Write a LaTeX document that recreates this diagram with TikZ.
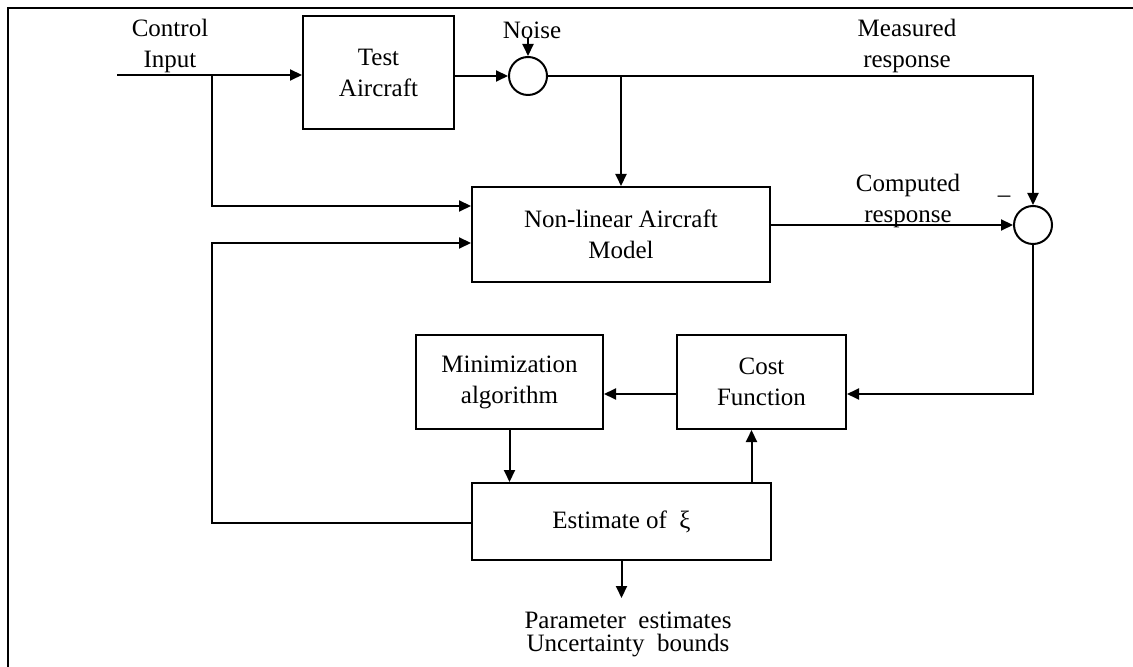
\documentclass[tikz,border=0pt]{standalone}
\usepackage{fontspec}
\setmainfont{Liberation Serif}
\usetikzlibrary{arrows.meta,positioning,calc}
\tikzset{>={Triangle[length=6pt,width=5.5pt]}}

\begin{document}
\begin{tikzpicture}[x=0.5pt,y=-0.5pt,line width=1pt,
  font=\fontsize{12.5}{15.5}\selectfont,
  block/.style={draw,align=center,inner sep=0pt},
  sumnode/.style={draw,circle,minimum size=19pt,inner sep=0pt},
  lbl/.style={align=center,inner sep=0pt}]
\useasboundingbox (0,0) rectangle (1133,667);
\draw (8,700) -- (8,8) -- (1150,8);
%%%% blocks
\node[block,minimum width=75.5pt,minimum height=56.5pt] (test) at (378.5,72.5) {Test\\Aircraft};
\node[sumnode] (sum1) at (528,76) {};
\node[block,minimum width=149pt,minimum height=47.5pt] (model) at (621,234.5) {Non-linear Aircraft\\Model};
\node[sumnode] (sum2) at (1033,225) {};
\node[block,minimum width=93.5pt,minimum height=47pt] (mini) at (509.5,382) {Minimization\\algorithm};
\node[block,minimum width=84.5pt,minimum height=47pt] (cost) at (761.5,382) {Cost\\Function};
\node[block,minimum width=149.5pt,minimum height=38.5pt] (est) at (621.5,521.5) {Estimate of\ \ ξ};
%%%% labels
\node[lbl] (ctrl) at (170,46) {Control\\Input};
\node[lbl] (noise) at (532,30) {Noise};
\node[lbl] (meas) at (907,46) {Measured\\response};
\node[lbl] (comp) at (908,201) {Computed\\response};
\node[anchor=base,inner sep=0pt] (minus) at (1004,203) {–};
\node[lbl,font=\fontsize{12.5}{11.5}\selectfont] (out) at (628,634) {Parameter\ \ estimates\\Uncertainty\ \ bounds};
%%%% connectors
\coordinate (in) at (117,75);
\coordinate (br) at (212,75);
\coordinate (fb) at (212,523);
\draw[->] (in) -- (test.west |- in);
\draw[->] (br) |- ([yshift=14.25pt]model.west);
\draw[->] (test.east |- sum1) -- (sum1.west);
\draw[->] (sum1 |- noise.base) -- (sum1.north);
\draw[->] (sum1.east) -- (sum2 |- sum1) -- (sum2.north);
\draw[->] (model.north |- sum1) -- (model.north);
\draw[->] (model.east |- sum2) -- (sum2.west);
\draw[->] (sum2.south) |- ([yshift=-6pt]cost.east);
\draw[->] ([yshift=-6pt]cost.west) -- ([yshift=-6pt]mini.east);
\draw[->] (mini.south) -- (mini.south |- est.north);
\draw[->] ([xshift=-5pt]cost.south |- est.north) -- ([xshift=-5pt]cost.south);
\draw[->] (est.west |- fb) -- (fb) |- ([yshift=-4.25pt]model.west);
\draw[->] (est.south) -- ++(0,37);
\end{tikzpicture}
\end{document}
